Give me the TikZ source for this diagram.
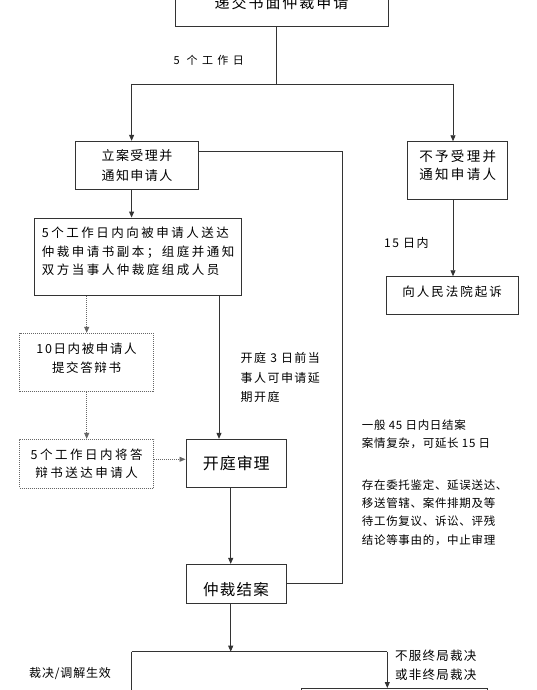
\documentclass[tikz,border=0pt]{standalone}
\usepackage{fontspec}
\setmainfont{Noto Sans CJK SC}
\usetikzlibrary{arrows.meta}
\newcommand\tf[3]{\fontsize{#1}{#2}\selectfont\addfontfeatures{LetterSpace=#3}}
\newcommand\dn[1]{\rule[-#1]{0pt}{0pt}}
\newcommand\hi[1]{\rule{0pt}{#1}}
\begin{document}
\begin{tikzpicture}[x=1pt,y=-1pt,
  ln/.style={draw=black!80, line width=0.9pt},
  arr/.style={ln, -{Triangle[length=6pt,width=5pt]}},
  dot/.style={draw=black!60, line width=0.9pt, dash pattern=on 1pt off 1pt},
  darr/.style={dot, -{Triangle[length=6pt,width=5pt]}},
  box/.style={draw=black!80, line width=0.9pt, rectangle, inner sep=0pt, align=center, fill=white},
  dbox/.style={dot, rectangle, inner sep=0pt, align=center, fill=white},
  lbl/.style={inner sep=0pt, anchor=west, align=left}]
\useasboundingbox (0,0) rectangle (537,690);
\clip (0,0) rectangle (537,690);
\fill[white] (0,0) rectangle (537,690);

% boxes
\node[box, minimum width=213pt, minimum height=48.2pt, font={\tf{15}{18}{13}}] (top) at (281.5,2.6) {递交书面仲裁申请};
\node[box, minimum width=122.7pt, minimum height=48pt, font={\tf{13}{20}{11}}] (lian) at (137,165.3) {立案受理并\\通知申请人};
\node[box, minimum width=100pt, minimum height=57.6pt, font={\tf{13.5}{18.3}{17}}] (buyu) at (457.7,170.5) {不予受理并\\通知申请人\dn{10.8pt}};
\node[box, minimum width=207pt, minimum height=77.7pt, align=left, font={\tf{12.5}{18.5}{20}}] (songda) at (138.2,256.85) {5个工作日内向被申请人送达\\仲裁申请书副本；组庭并通知\\双方当事人仲裁庭组成人员\dn{12.2pt}};
\node[box, minimum width=132.3pt, minimum height=37.6pt, font={\tf{12.5}{12.5}{16}}] (court) at (452.2,295.5) {向人民法院起诉\dn{9pt}};
\node[dbox, minimum width=134pt, minimum height=58.4pt, font={\tf{12.5}{19}{13}}] (dabian1) at (86.6,362.5) {10日内被申请人\\提交答辩书\dn{8.9pt}};
\node[dbox, minimum width=134pt, minimum height=49pt, font={\tf{12.5}{18.3}{20}}] (dabian2) at (86.6,463.8) {5个工作日内将答\\辩书送达申请人};
\node[box, minimum width=100.7pt, minimum height=48pt, font={\tf{16}{16}{6}}] (kaiting) at (236.3,463.3) {开庭审理};
\node[box, minimum width=100pt, minimum height=38.7pt, font={\tf{15.5}{15.5}{8}}] (jiean) at (236,583.7) {\hi{24pt}仲裁结案};
\node[box, minimum width=186pt, minimum height=40pt, anchor=north west] (appeal) at (301,688) {};

% connectors
\coordinate (j1) at (276,84);
\coordinate (jl) at (131.6,84);
\coordinate (jr) at (453,84);
\draw[ln] (top.south -| j1) -- (j1);
\draw[ln] (jl) -- (jr);
\draw[arr] (jl) -- (jl |- lian.north);
\draw[arr] (jr) -- (jr |- buyu.north);
\draw[arr] (lian.south -| jl) -- (songda.north -| jl);
\draw[arr] (buyu.south -| jr) -- (court.north -| jr);
\coordinate (rt) at (342.5,151.7);
\coordinate (rb) at (342.5,583.3);
\draw[ln] (lian.east |- rt) -- (rt) -- (rb) -- (jiean.east |- rb);
\coordinate (xd) at (86.7,0);
\draw[darr] (songda.south -| xd) -- (dabian1.north -| xd);
\draw[darr] (dabian1.south -| xd) -- (dabian2.north -| xd);
\coordinate (yd) at (0,459.3);
\draw[darr] (dabian2.east |- yd) -- (kaiting.west |- yd);
\coordinate (xk) at (219,0);
\draw[arr] (songda.south -| xk) -- (kaiting.north -| xk);
\coordinate (xj) at (230.7,0);
\draw[arr] (kaiting.south -| xj) -- (jiean.north -| xj);
\coordinate (b2) at (230.7,651.7);
\coordinate (bl) at (131.6,651.7);
\coordinate (br) at (387.3,651.7);
\coordinate (blb) at (131.6,700);
\draw[arr] (jiean.south -| xj) -- (b2);
\draw[ln] (bl) -- (br);
\draw[ln] (bl) -- (blb);
\draw[arr] (br) -- (br |- appeal.north);

% labels
\node[lbl, font={\tf{11}{11}{40}}] (l5) at (173.5,60) {5 个工作日};
\node[lbl, font={\tf{12}{12}{12}}] (l15) at (384,242.7) {15 日内};
\node[lbl, font={\tf{12}{19.2}{12}}] (lk) at (240.5,377.5) {开庭 3 日前当\\事人可申请延\\期开庭};
\node[lbl, font={\tf{11.5}{18}{6}}] (r1) at (361.7,434) {一般 45 日内日结案\\案情复杂，可延长 15 日};
\node[lbl, font={\tf{11.5}{18.3}{6}}] (r2) at (361.7,512.5) {存在委托鉴定、延误送达、\\移送管辖、案件排期及等\\待工伤复议、诉讼、评残\\结论等事由的，中止审理};
\node[lbl, font={\tf{12}{12}{7}}] (lc) at (29,674) {裁决/调解生效};
\node[lbl, font={\tf{12.5}{18.5}{10}}] (lb) at (395,665) {不服终局裁决\\或非终局裁决};
\end{tikzpicture}
\end{document}
